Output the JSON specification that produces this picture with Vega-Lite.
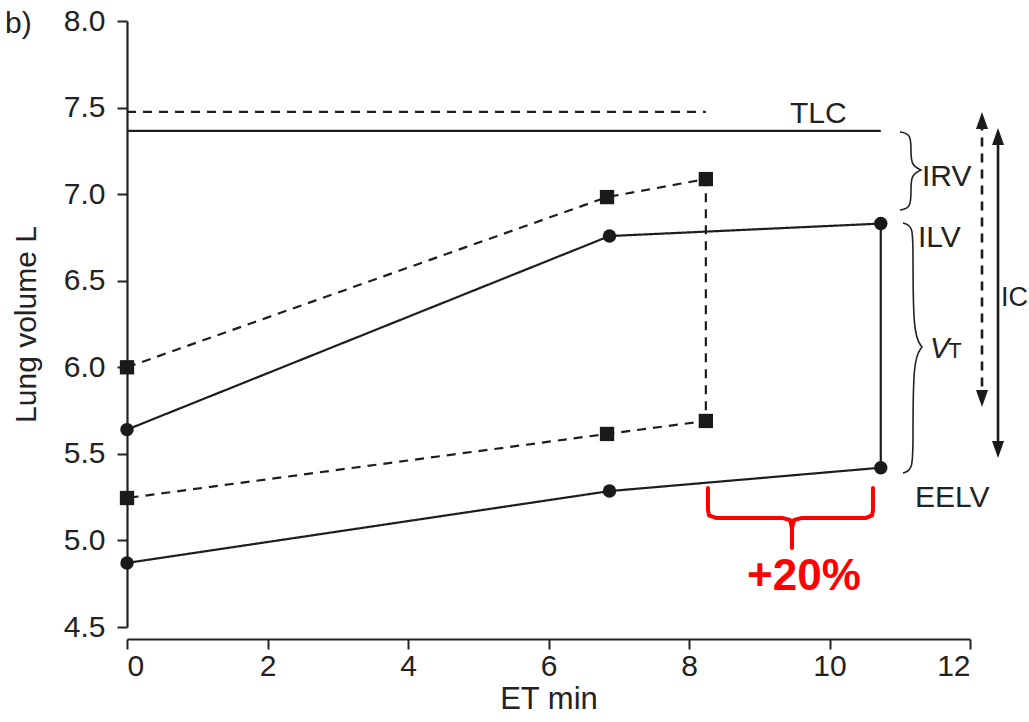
{
  "$schema": "https://vega.github.io/schema/vega-lite/v6.json",
  "width": 843,
  "height": 606,
  "autosize": {"type": "none"},
  "padding": {"left": 127, "top": 21, "right": 59, "bottom": 95},
  "background": "white",
  "config": {
    "view": {"stroke": null},
    "axis": {"grid": false, "domainColor": "#222", "tickColor": "#222", "labelColor": "#222", "titleColor": "#222"}
  },
  "encoding": {
    "x": {
      "field": "x", "type": "quantitative",
      "scale": {"domain": [0, 12], "nice": false, "zero": false},
      "axis": {"title": "ET min", "values": [0, 2, 4, 6, 8, 10, 12], "offset": 12, "domainWidth": 2.2, "tickWidth": 2, "tickSize": 10,
        "labelFont": "Liberation Sans", "labelFontSize": 30, "labelPadding": 2,
        "titleFont": "Liberation Sans", "titleFontSize": 31, "titleFontWeight": "normal", "titlePadding": 3}
    },
    "y": {
      "field": "y", "type": "quantitative",
      "scale": {"domain": [4.5, 8], "nice": false, "zero": false},
      "axis": {"title": "Lung volume L", "values": [4.5, 5, 5.5, 6, 6.5, 7, 7.5, 8], "format": ".1f", "domainWidth": 2.2, "tickWidth": 2, "tickSize": 10,
        "labelFont": "Liberation Sans", "labelFontSize": 30, "labelPadding": 12,
        "titleFont": "Liberation Sans", "titleFontSize": 30, "titleFontWeight": "normal", "titlePadding": 22}
    }
  },
  "layer": [
    {
      "data": {"values": [
        {"s": "tlc_solid", "d": "solid", "o": 1, "x": 0, "y": 7.365},
        {"s": "tlc_solid", "d": "solid", "o": 2, "x": 10.73, "y": 7.365},
        {"s": "tlc_dash", "d": "dashed", "o": 1, "x": 0, "y": 7.475},
        {"s": "tlc_dash", "d": "dashed", "o": 2, "x": 8.24, "y": 7.475},
        {"s": "circ", "d": "solid", "o": 1, "x": 0, "y": 5.64},
        {"s": "circ", "d": "solid", "o": 2, "x": 6.868, "y": 6.758},
        {"s": "circ", "d": "solid", "o": 3, "x": 10.73, "y": 6.83},
        {"s": "circ", "d": "solid", "o": 4, "x": 10.73, "y": 5.42},
        {"s": "circ", "d": "solid", "o": 5, "x": 6.868, "y": 5.285},
        {"s": "circ", "d": "solid", "o": 6, "x": 0, "y": 4.87},
        {"s": "sq", "d": "dashed", "o": 1, "x": 0, "y": 6.0},
        {"s": "sq", "d": "dashed", "o": 2, "x": 6.833, "y": 6.983},
        {"s": "sq", "d": "dashed", "o": 3, "x": 8.24, "y": 7.087},
        {"s": "sq", "d": "dashed", "o": 4, "x": 8.24, "y": 5.69},
        {"s": "sq", "d": "dashed", "o": 5, "x": 6.833, "y": 5.615},
        {"s": "sq", "d": "dashed", "o": 6, "x": 0, "y": 5.245}
      ]},
      "mark": {"type": "line", "color": "#1e1e1e", "strokeWidth": 2.2},
      "encoding": {
        "detail": {"field": "s"},
        "order": {"field": "o", "type": "quantitative"},
        "strokeDash": {"field": "d", "type": "nominal", "scale": {"domain": ["solid", "dashed"], "range": [[1, 0], [9, 7]]}, "legend": null}
      }
    },
    {
      "data": {"values": [
        {"x": 0, "y": 5.64}, {"x": 6.868, "y": 6.758}, {"x": 10.73, "y": 6.83},
        {"x": 10.73, "y": 5.42}, {"x": 6.868, "y": 5.285}, {"x": 0, "y": 4.87}
      ]},
      "mark": {"type": "point", "shape": "circle", "filled": true, "size": 180, "color": "#1a1a1a", "opacity": 1}
    },
    {
      "data": {"values": [
        {"x": 0, "y": 6.0}, {"x": 6.833, "y": 6.983}, {"x": 8.24, "y": 7.087},
        {"x": 8.24, "y": 5.69}, {"x": 6.833, "y": 5.615}, {"x": 0, "y": 5.245}
      ]},
      "mark": {"type": "point", "shape": "square", "filled": true, "size": 205, "color": "#1a1a1a", "opacity": 1}
    },
    {
      "data": {"values": [
        {"b": "irv", "o": 1, "x": 11.004, "y": 7.359},
        {"b": "irv", "o": 2, "x": 11.16, "y": 7.347},
        {"b": "irv", "o": 3, "x": 11.16, "y": 7.255},
        {"b": "irv", "o": 4, "x": 11.16, "y": 7.168},
        {"b": "irv", "o": 5, "x": 11.302, "y": 7.139},
        {"b": "irv", "o": 6, "x": 11.302, "y": 7.139},
        {"b": "irv", "o": 7, "x": 11.302, "y": 7.139},
        {"b": "irv", "o": 8, "x": 11.16, "y": 7.111},
        {"b": "irv", "o": 9, "x": 11.16, "y": 7.024},
        {"b": "irv", "o": 10, "x": 11.16, "y": 6.92},
        {"b": "irv", "o": 11, "x": 11.004, "y": 6.908},
        {"b": "vt", "o": 1, "x": 11.046, "y": 6.833},
        {"b": "vt", "o": 2, "x": 11.189, "y": 6.816},
        {"b": "vt", "o": 3, "x": 11.189, "y": 6.677},
        {"b": "vt", "o": 4, "x": 11.189, "y": 6.186},
        {"b": "vt", "o": 5, "x": 11.317, "y": 6.117},
        {"b": "vt", "o": 6, "x": 11.317, "y": 6.117},
        {"b": "vt", "o": 7, "x": 11.317, "y": 6.117},
        {"b": "vt", "o": 8, "x": 11.189, "y": 6.048},
        {"b": "vt", "o": 9, "x": 11.189, "y": 5.58},
        {"b": "vt", "o": 10, "x": 11.189, "y": 5.407},
        {"b": "vt", "o": 11, "x": 11.046, "y": 5.389}
      ]},
      "mark": {"type": "line", "interpolate": "basis", "color": "#222", "strokeWidth": 1.6},
      "encoding": {
        "detail": {"field": "b"},
        "order": {"field": "o", "type": "quantitative"}
      }
    },
    {
      "data": {"values": [
        {"o": 1, "x": 8.27, "y": 5.303},
        {"o": 2, "x": 8.27, "y": 5.176},
        {"o": 3, "x": 8.285, "y": 5.145},
        {"o": 4, "x": 8.384, "y": 5.13},
        {"o": 5, "x": 9.324, "y": 5.13},
        {"o": 6, "x": 9.438, "y": 5.118},
        {"o": 7, "x": 9.466, "y": 5.072},
        {"o": 8, "x": 9.466, "y": 4.956},
        {"o": 9, "x": 9.466, "y": 5.072},
        {"o": 10, "x": 9.495, "y": 5.118},
        {"o": 11, "x": 9.609, "y": 5.13},
        {"o": 12, "x": 10.52, "y": 5.13},
        {"o": 13, "x": 10.605, "y": 5.145},
        {"o": 14, "x": 10.619, "y": 5.176},
        {"o": 15, "x": 10.619, "y": 5.303}
      ]},
      "mark": {"type": "line", "color": "#ff0000", "strokeWidth": 4, "strokeJoin": "round", "strokeCap": "round"},
      "encoding": {"order": {"field": "o", "type": "quantitative"}}
    },
    {
      "data": {"values": [
        {"x": 12.171, "y": 7.42, "y2": 5.83, "d": "dashed"},
        {"x": 12.399, "y": 7.33, "y2": 5.53, "d": "solid"}
      ]},
      "mark": {"type": "rule", "color": "#1a1a1a", "strokeWidth": 2.6},
      "encoding": {
        "y2": {"field": "y2"},
        "strokeDash": {"field": "d", "type": "nominal", "scale": {"domain": ["solid", "dashed"], "range": [[1, 0], [9, 7]]}, "legend": null}
      }
    },
    {
      "data": {"values": [
        {"x": 12.171, "y": 7.474},
        {"x": 12.399, "y": 7.382}
      ]},
      "mark": {"type": "point", "shape": "M0,0L-0.6,1.7L0.6,1.7Z", "size": 400, "filled": true, "color": "#1a1a1a", "opacity": 1}
    },
    {
      "data": {"values": [
        {"x": 12.171, "y": 5.771},
        {"x": 12.399, "y": 5.476}
      ]},
      "mark": {"type": "point", "shape": "M0,0L-0.6,-1.7L0.6,-1.7Z", "size": 400, "filled": true, "color": "#1a1a1a", "opacity": 1}
    },
    {
      "data": {"values": [
        {"t": "TLC", "x": 9.438, "y": 7.411},
        {"t": "IRV", "x": 11.317, "y": 7.047},
        {"t": "ILV", "x": 11.26, "y": 6.695},
        {"t": "EELV", "x": 11.217, "y": 5.193},
        {"t": "b)", "x": -1.737, "y": 7.931}
      ]},
      "mark": {"type": "text", "align": "left", "baseline": "alphabetic", "font": "Liberation Sans", "fontSize": 30, "color": "#222"},
      "encoding": {"text": {"field": "t"}}
    },
    {
      "data": {"values": [{"t": "IC", "x": 12.44, "y": 6.354}]},
      "mark": {"type": "text", "align": "left", "baseline": "alphabetic", "font": "Liberation Sans", "fontSize": 27, "color": "#222"},
      "encoding": {"text": {"field": "t"}}
    },
    {
      "data": {"values": [{"t": "V", "x": 11.431, "y": 6.054}]},
      "mark": {"type": "text", "align": "left", "baseline": "alphabetic", "font": "Liberation Sans", "fontSize": 29, "fontStyle": "italic", "color": "#222"},
      "encoding": {"text": {"field": "t"}}
    },
    {
      "data": {"values": [{"t": "T", "x": 11.69, "y": 6.054}]},
      "mark": {"type": "text", "align": "left", "baseline": "alphabetic", "font": "Liberation Sans", "fontSize": 22, "color": "#222"},
      "encoding": {"text": {"field": "t"}}
    },
    {
      "data": {"values": [{"t": "+20%", "x": 9.637, "y": 4.714}]},
      "mark": {"type": "text", "align": "center", "baseline": "alphabetic", "font": "Liberation Sans", "fontSize": 44, "fontWeight": "bold", "color": "#ff0000"},
      "encoding": {"text": {"field": "t"}}
    }
  ]
}
